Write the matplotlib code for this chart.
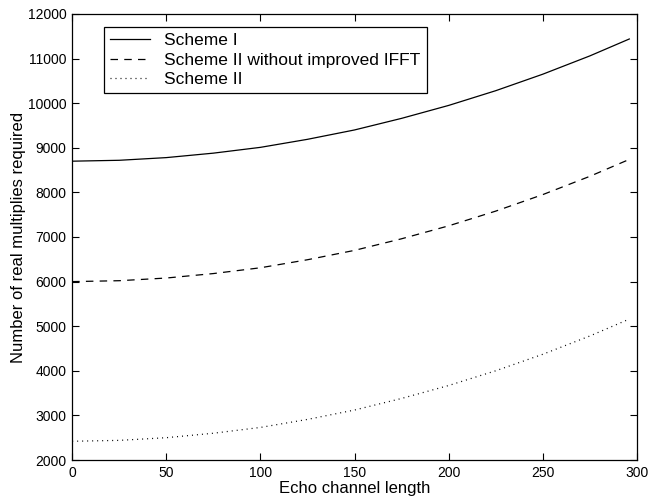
import matplotlib
matplotlib.use("Agg")
import matplotlib.pyplot as plt

plt.rcParams["font.family"] = ["Liberation Sans", "DejaVu Sans"]

# values
echo_len = [0, 25, 50, 75, 100, 125, 150, 175, 200, 225, 250, 275, 296]
scheme1 = [8700, 8720, 8780, 8880, 9010, 9190, 9400, 9660, 9950, 10280, 10650, 11060, 11440]
scheme2_no_ifft = [6000, 6020, 6080, 6180, 6310, 6490, 6700, 6960, 7250, 7580, 7950, 8360, 8740]
scheme2 = [2420, 2440, 2500, 2600, 2730, 2910, 3120, 3380, 3670, 4000, 4370, 4780, 5160]

x_ticks = [0, 50, 100, 150, 200, 250, 300]
y_ticks = list(range(2000, 12001, 1000))

fig = plt.figure(figsize=(6.62, 5.0), dpi=100)
ax = fig.add_axes([0.109, 0.08, 0.853, 0.892])

ax.plot(echo_len, scheme1, "-", color="black", lw=0.9, label="Scheme I")
ax.plot(echo_len, scheme2_no_ifft, color="black", lw=0.9, dashes=(6, 5),
        label="Scheme II without improved IFFT")
ax.plot(echo_len, scheme2, color="black", lw=0.9, dashes=(0.8, 3.2),
        label="Scheme II")

ax.set_xlim(0, 300)
ax.set_ylim(2000, 12000)
ax.set_xticks(x_ticks)
ax.set_yticks(y_ticks)
ax.tick_params(direction="in", top=True, right=True, length=5, width=0.8,
               labelsize=10, pad=4)
for s in ax.spines.values():
    s.set_linewidth(0.9)

ax.set_xlabel("Echo channel length", fontsize=12, labelpad=1)
ax.set_ylabel("Number of real multiplies required", fontsize=12, labelpad=1)

leg = ax.legend(loc="upper left", bbox_to_anchor=(0.057, 0.971), borderaxespad=0,
                fancybox=False, edgecolor="black", framealpha=1, fontsize=12.5,
                handlelength=2.3, handletextpad=0.8, labelspacing=0.25,
                borderpad=0.35)
leg.get_frame().set_linewidth(0.9)

fig.savefig("out.png", dpi=100)
